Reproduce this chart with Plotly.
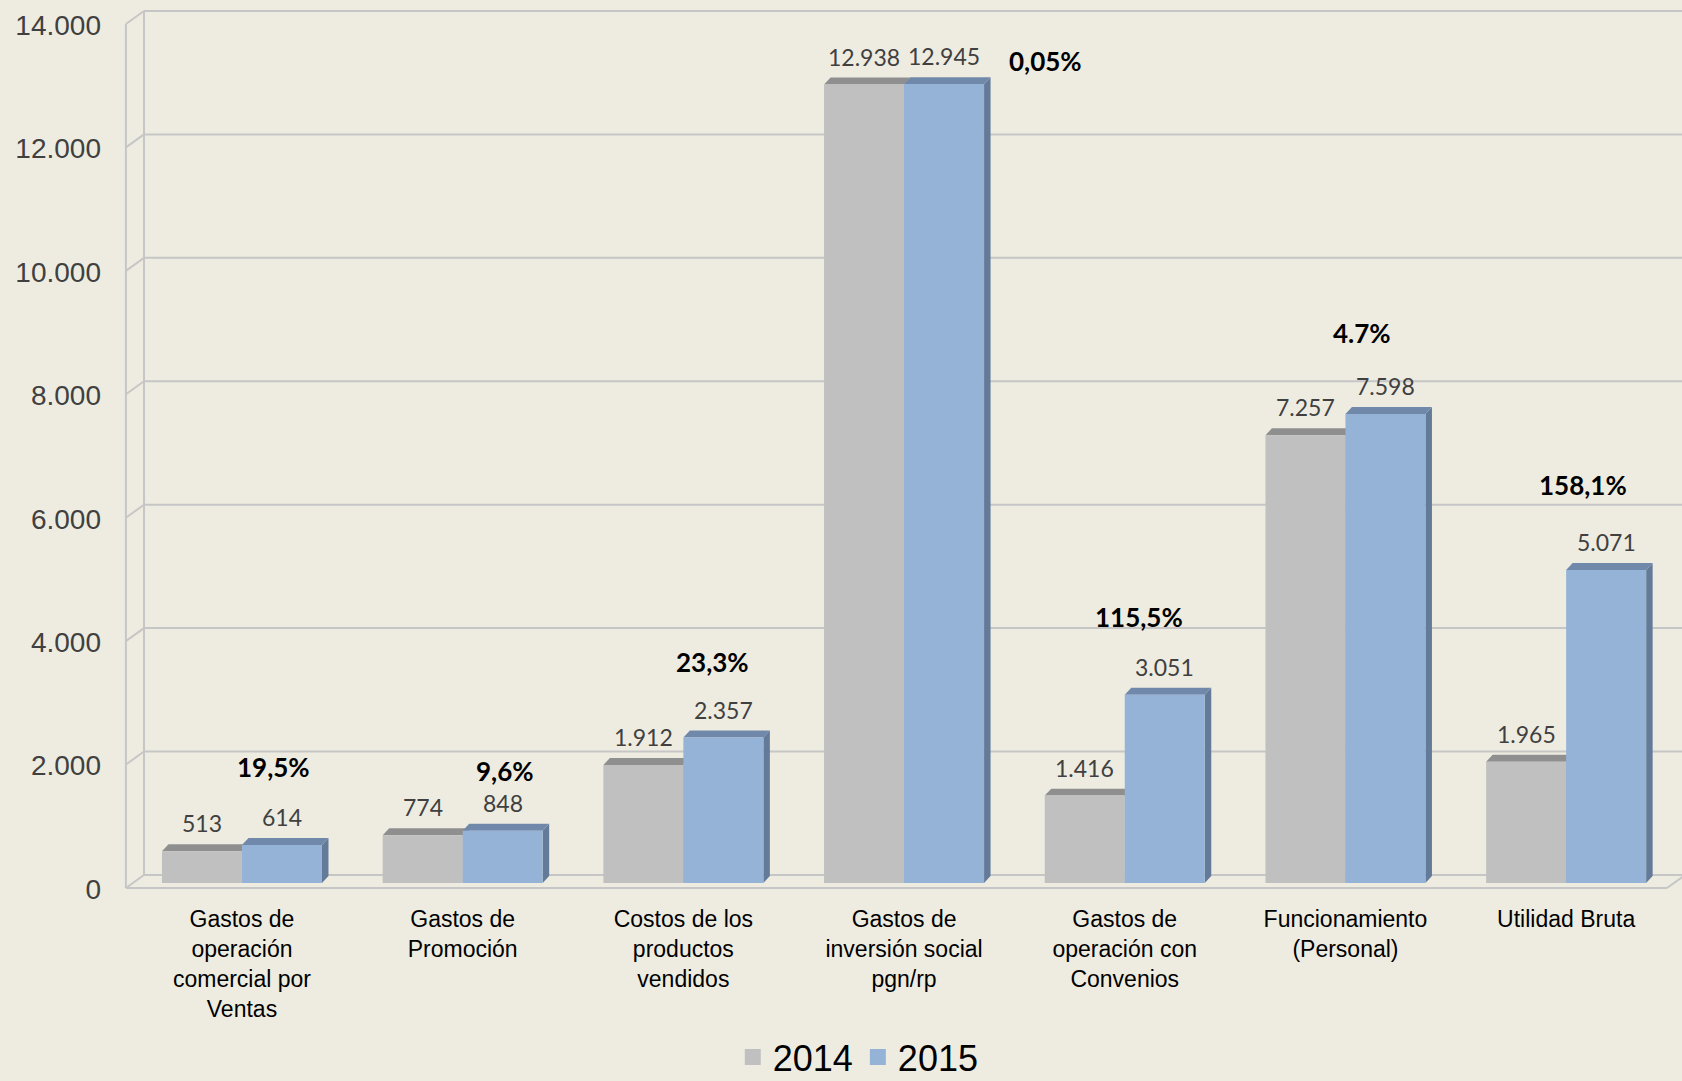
import plotly.graph_objects as go

# Data
categories = ['Gastos de operación comercial por Ventas', 'Gastos de Promoción',
              'Costos de los productos vendidos', 'Gastos de inversión social pgn/rp',
              'Gastos de operación con Convenios', 'Funcionamiento (Personal)', 'Utilidad Bruta']
tick_labels = ['Gastos de<br>operación<br>comercial por<br>Ventas', 'Gastos de<br>Promoción',
               'Costos de los<br>productos<br>vendidos', 'Gastos de<br>inversión social<br>pgn/rp',
               'Gastos de<br>operación con<br>Convenios', 'Funcionamiento<br>(Personal)', 'Utilidad Bruta']
values_2014 = [513, 774, 1912, 12938, 1416, 7257, 1965]
values_2015 = [614, 848, 2357, 12945, 3051, 7598, 5071]
pct_labels = ['19,5%', '9,6%', '23,3%', '0,05%', '115,5%', '4.7%', '158,1%']
y_ticks = [0, 2000, 4000, 6000, 8000, 10000, 12000, 14000]

# Geometry / styling
BAR_W = 0.3625
DX, DY = 0.0295, 113          # 3D depth of the bars
WALL_FRONT, WALL_BACK = -0.526, -0.444
FRONT_DY, BACK_DY = -81, 130  # front edge / back wall offsets
X_MIN, X_MAX = -0.598, 6.525
FLOOR_END = 6.457
GRID = '#C6C6C6'
pct_dx = [0.143, 0.192, 0.134, 0.643, 0.064, 0.075, 0.076]
pct_shift = [78, 60, 76, 23, 78, 81, 85]

fig = go.Figure()

series = [
    ('2014', values_2014, -BAR_W, '#C0C0C0', '#8F8F8F', '#9A9A9A'),
    ('2015', values_2015, 0.0, '#95B3D7', '#7089AA', '#637A98'),
]

shapes = []
# back wall gridlines and left wall
for t in y_ticks:
    shapes.append(dict(type='line', x0=WALL_BACK, x1=X_MAX + 0.1, y0=t + BACK_DY, y1=t + BACK_DY))
    shapes.append(dict(type='line', x0=WALL_FRONT, x1=WALL_BACK, y0=t + FRONT_DY, y1=t + BACK_DY))
shapes.append(dict(type='line', x0=WALL_FRONT, x1=WALL_FRONT, y0=FRONT_DY, y1=y_ticks[-1] + FRONT_DY))
shapes.append(dict(type='line', x0=WALL_BACK, x1=WALL_BACK, y0=BACK_DY, y1=y_ticks[-1] + BACK_DY))
shapes.append(dict(type='line', x0=WALL_FRONT, x1=FLOOR_END, y0=FRONT_DY, y1=FRONT_DY))
shapes.append(dict(type='line', x0=FLOOR_END, x1=FLOOR_END + (WALL_BACK - WALL_FRONT), y0=FRONT_DY, y1=BACK_DY))
for s in shapes:
    s.update(xref='x', yref='y', layer='below', line=dict(color=GRID, width=2))

# bar top and side faces
for name, vals, off, front, top, side in series:
    for i, v in enumerate(vals):
        x0 = i + off
        x1 = x0 + BAR_W
        shapes.append(dict(type='path', xref='x', yref='y', layer='below',
                           path=f'M {x1},{0} L {x1 + DX},{DY} L {x1 + DX},{v + DY} L {x1},{v} Z',
                           fillcolor=side, line=dict(width=0)))
        shapes.append(dict(type='path', xref='x', yref='y', layer='below',
                           path=f'M {x0},{v} L {x0 + DX},{v + DY} L {x1 + DX},{v + DY} L {x1},{v} Z',
                           fillcolor=top, line=dict(width=0)))

annotations = []
for name, vals, off, front, top, side in series:
    fig.add_trace(go.Bar(
        name=name,
        x=list(range(len(categories))),
        y=vals,
        width=BAR_W,
        offset=off,
        marker=dict(color=front, line=dict(width=0)),
        hoverinfo='skip',
        showlegend=False,
    ))
    # legend entry with a larger square swatch
    fig.add_trace(go.Scatter(
        name=name, x=[None], y=[None], mode='markers',
        marker=dict(symbol='square', size=18, color=front),
        hoverinfo='skip',
    ))
    for i, v in enumerate(vals):
        annotations.append(dict(
            x=i + off + BAR_W / 2, y=v, xref='x', yref='y',
            text=f'{v:,}'.replace(',', '.'), showarrow=False,
            yanchor='bottom', yshift=12,
            font=dict(family='Lato', size=23, color='#404040'),
        ))

for i, p in enumerate(pct_labels):
    annotations.append(dict(
        x=i + pct_dx[i], y=values_2015[i], xref='x', yref='y',
        text=f'<b>{p}</b>', showarrow=False,
        yanchor='middle', yshift=pct_shift[i],
        font=dict(family='Lato', size=26, color='#000000'),
    ))

fig.update_layout(
    width=1682, height=1081,
    margin=dict(l=110, r=0, t=0, b=189),
    paper_bgcolor='#EEECE1', plot_bgcolor='#EEECE1',
    barmode='overlay',
    separators=',.',
    shapes=shapes,
    annotations=annotations,
    showlegend=True,
    legend=dict(orientation='h', x=0.476, xanchor='center', y=0.022, yref='container',
                yanchor='middle', itemwidth=30,
                font=dict(family='Liberation Sans', size=36, color='#000000'),
                bgcolor='rgba(0,0,0,0)'),
    font=dict(family='Liberation Sans'),
)

fig.update_xaxes(range=[X_MIN, X_MAX], tickvals=list(range(len(categories))), ticktext=tick_labels,
                 showgrid=False, zeroline=False, showline=False, ticks='',
                 ticklabelstandoff=11,
                 tickfont=dict(family='Liberation Sans', size=23, color='#000000'))
fig.update_yaxes(range=[-146, 14308], tickvals=y_ticks, tickformat=',d',
                 showgrid=False, zeroline=False, showline=False, ticks='',
                 ticklabelshift=6, ticklabelstandoff=8, ticklabeloverflow='allow',
                 tickfont=dict(family='Liberation Sans', size=28, color='#404040'))

fig.write_html('out.html', config={'displayModeBar': False},
               post_script="document.body.style.margin='0';")
